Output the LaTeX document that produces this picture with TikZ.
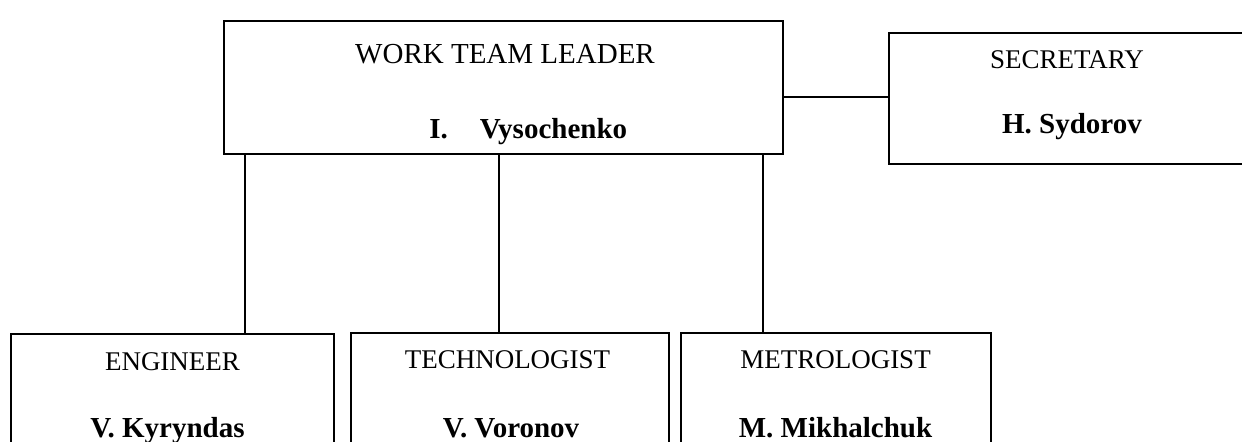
\documentclass[tikz,border=0pt]{standalone}
\usepackage{fontspec}
\setmainfont{Liberation Serif}
\usetikzlibrary{positioning}

\begin{document}
\begin{tikzpicture}[
  x=0.5pt, y=-0.5pt,
  boxsty/.style={draw, rectangle, line width=0.75pt, inner sep=0pt},
  titlesty/.style={font=\fontsize{13.5}{16}\selectfont, inner sep=0pt, anchor=base},
  bigtitlesty/.style={font=\fontsize{14.5}{17}\selectfont, inner sep=0pt, anchor=base},
  namesty/.style={font=\fontsize{14.5}{17}\selectfont\bfseries, inner sep=0pt, anchor=base},
  linksty/.style={line width=0.75pt}]

\useasboundingbox (0,0) rectangle (1242,441);
\clip (0,0) rectangle (1242,441);

% boxes
\node[boxsty, minimum width=279.5pt, minimum height=66.5pt] (leader) at (503.5,87.5) {};
\node[boxsty, minimum width=178.5pt, minimum height=65.5pt] (secretary) at (1067.5,98.5) {};
\node[boxsty, minimum width=161.5pt, minimum height=68pt] (engineer) at (172.5,402) {};
\node[boxsty, minimum width=159pt, minimum height=68pt] (technologist) at (510,401) {};
\node[boxsty, minimum width=155pt, minimum height=68pt] (metrologist) at (836,401) {};

% texts
\node[bigtitlesty] (leaderTitle) at (505,63) {WORK TEAM LEADER};
\node[namesty, anchor=base west] (leaderName) at (429,138) {I.\hspace{16pt}Vysochenko};

\node[titlesty] (secretaryTitle) at (1067,68) {SECRETARY};
\node[namesty] (secretaryName) at (1072,133) {H. Sydorov};

\node[titlesty] (engineerTitle) at (172.5,370) {ENGINEER};
\node[namesty] (engineerName) at (167.5,437) {V. Kyryndas};

\node[titlesty] (technologistTitle) at (507.5,368) {TECHNOLOGIST};
\node[namesty] (technologistName) at (511,437) {V. Voronov};

\node[titlesty] (metrologistTitle) at (835.5,368) {METROLOGIST};
\node[namesty] (metrologistName) at (835.5,437) {M. Mikhalchuk};

% links
\draw[linksty] (leader.south -| 245,0) -- (engineer.north -| 245,0);
\draw[linksty] (leader.south -| 499,0) -- (technologist.north -| 499,0);
\draw[linksty] (leader.south -| 763,0) -- (metrologist.north -| 763,0);
\draw[linksty] (leader.east |- 0,97) -- (secretary.west |- 0,97);

\end{tikzpicture}
\end{document}
